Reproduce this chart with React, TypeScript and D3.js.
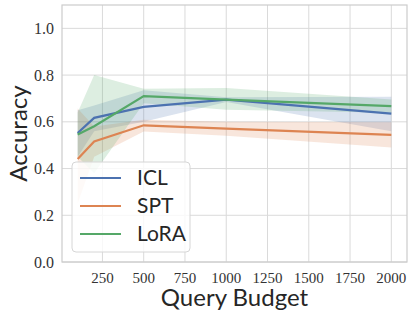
import * as d3 from "d3";

const budgets = [100, 200, 500, 1000, 2000];

const iclMean = [0.552, 0.617, 0.664, 0.695, 0.635];
const iclLow = [0.45, 0.56, 0.6, 0.685, 0.56];
const iclHigh = [0.65, 0.67, 0.735, 0.705, 0.707];

const sptMean = [0.441, 0.516, 0.585, 0.571, 0.544];
const sptLow = [0.25, 0.45, 0.559, 0.54, 0.49];
const sptHigh = [0.657, 0.58, 0.609, 0.6, 0.598];

const loraMean = [0.546, 0.581, 0.71, 0.695, 0.667];
const loraLow = [0.45, 0.38, 0.68, 0.652, 0.639];
const loraHigh = [0.64, 0.8, 0.742, 0.745, 0.695];

const xTicks = [250, 500, 750, 1000, 1250, 1500, 1750, 2000];
const yTicks = [0, 0.2, 0.4, 0.6, 0.8, 1.0];

const series = [
  { name: "ICL", color: "#4c72b0", mean: iclMean, low: iclLow, high: iclHigh },
  { name: "SPT", color: "#dd8452", mean: sptMean, low: sptLow, high: sptHigh },
  { name: "LoRA", color: "#55a868", mean: loraMean, low: loraLow, high: loraHigh },
];

const W = 415;
const H = 319;
const m = { left: 62, right: 8, top: 5, bottom: 57 };

export default function App() {
  const x = d3.scaleLinear().domain([5, 2095]).range([m.left, W - m.right]);
  const y = d3.scaleLinear().domain([0, 1.1]).range([H - m.bottom, m.top]);

  const line = d3
    .line<number>()
    .x((_, i) => x(budgets[i]))
    .y((d) => y(d));

  const band = (lo: number[], hi: number[]) =>
    d3
      .area<number>()
      .x((_, i) => x(budgets[i]))
      .y0((_, i) => y(lo[i]))
      .y1((_, i) => y(hi[i]))(lo);

  const serif = "'Liberation Serif', 'DejaVu Serif', serif";
  const sans = "Lato, 'DejaVu Sans', sans-serif";
  const grid = "#dadada";

  return (
    <svg width={W} height={H} style={{ position: "absolute", left: 0, top: 0, background: "#fff" }}>
      {xTicks.map((t) => (
        <line key={"gx" + t} x1={x(t)} x2={x(t)} y1={m.top} y2={H - m.bottom} stroke={grid} strokeWidth={1} />
      ))}
      {yTicks.map((t) => (
        <line key={"gy" + t} x1={m.left} x2={W - m.right} y1={y(t)} y2={y(t)} stroke={grid} strokeWidth={1} />
      ))}

      {series.map((s) => (
        <path key={"b" + s.name} d={band(s.low, s.high) ?? ""} fill={s.color} fillOpacity={0.2} />
      ))}
      {series.map((s) => (
        <path key={"l" + s.name} d={line(s.mean) ?? ""} fill="none" stroke={s.color} strokeWidth={2.2} />
      ))}

      <rect
        x={m.left}
        y={m.top}
        width={W - m.left - m.right}
        height={H - m.top - m.bottom}
        fill="none"
        stroke="#cccccc"
        strokeWidth={1.2}
      />

      {yTicks.map((t) => (
        <text
          key={"ty" + t}
          x={m.left - 8}
          y={y(t)}
          dy="0.35em"
          textAnchor="end"
          fontFamily={serif}
          fontSize={16}
          fill="#333"
        >
          {t.toFixed(1)}
        </text>
      ))}
      {xTicks.map((t) => (
        <text
          key={"tx" + t}
          x={x(t)}
          y={H - m.bottom + 21}
          textAnchor="middle"
          fontFamily={serif}
          fontSize={15}
          fill="#333"
        >
          {t}
        </text>
      ))}

      <text
        x={(m.left + W - m.right) / 2}
        y={306}
        textAnchor="middle"
        fontFamily={sans}
        fontSize={24}
        fill="#262626"
      >
        Query Budget
      </text>
      <text
        transform={`translate(27,${(m.top + H - m.bottom) / 2}) rotate(-90)`}
        textAnchor="middle"
        fontFamily={sans}
        fontSize={24}
        fill="#262626"
      >
        Accuracy
      </text>

      <g>
        <rect x={72} y={162} width={118} height={90} rx={4} fill="#fff" fillOpacity={0.8} stroke="#d6d6d6" />
        {series.map((s, i) => (
          <g key={"lg" + s.name}>
            <line x1={80} x2={121} y1={178 + i * 28} y2={178 + i * 28} stroke={s.color} strokeWidth={2.2} />
            <text x={137} y={178 + i * 28} dy="0.35em" fontFamily={sans} fontSize={21} fill="#262626">
              {s.name}
            </text>
          </g>
        ))}
      </g>
    </svg>
  );
}
